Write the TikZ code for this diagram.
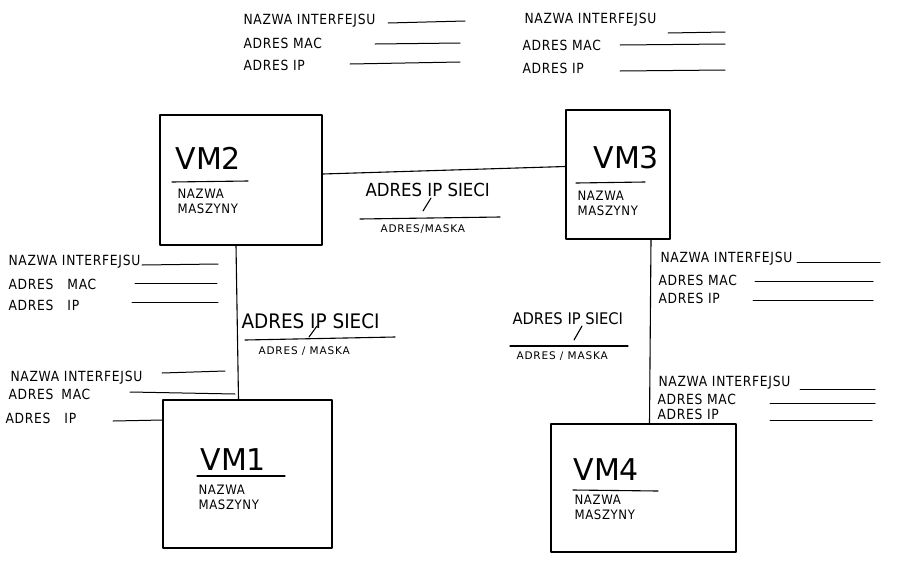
\documentclass[tikz,border=0pt]{standalone}
\usepackage{fontspec}
\setmainfont{DejaVu Sans}
\begin{document}
\begin{tikzpicture}[x=1pt,y=-1pt,line width=1.1pt,line cap=round,line join=round,
  box/.style={draw,rectangle,inner sep=0pt},
  fld/.style={anchor=west,inner sep=0pt,font=\fontsize{14}{16}\selectfont\addfontfeature{FakeStretch=0.88,LetterSpace=5}},
  net/.style={anchor=west,inner sep=0pt,font=\fontsize{18}{20}\selectfont\addfontfeature{FakeStretch=0.92}},
  mask/.style={anchor=west,inner sep=0pt,font=\fontsize{10.5}{12}\selectfont\addfontfeature{LetterSpace=8}},
  vmt/.style={anchor=west,inner sep=0pt,font=\fontsize{30}{32}\selectfont},
  nm/.style={anchor=north west,inner sep=0pt,align=left,font=\fontsize{13}{15}\selectfont\addfontfeature{FakeStretch=0.9,LetterSpace=5}},
  blank/.style={line width=1pt}]
\useasboundingbox (0,0) rectangle (900,571);

% machine boxes
\node[box,minimum width=162pt,minimum height=130pt] (vm2) at (241,180) {};
\node[box,minimum width=104pt,minimum height=129pt] (vm3) at (618,174.5) {};
\node[box,minimum width=169pt,minimum height=148pt] (vm1) at (247.5,474) {};
\node[box,minimum width=185pt,minimum height=128pt] (vm4) at (643.5,488) {};

% box contents
\node[vmt] (t2) at (175,158) {VM2};
\draw (172,182) -- (248,181);
\node[nm] (n2) at (177,188) {NAZWA\\MASZYNY};
\node[vmt] (t3) at (593,158) {VM3};
\draw (576,183) -- (645,182);
\node[nm] (n3) at (577,190) {NAZWA\\MASZYNY};
\node[vmt] (t1) at (200,460) {VM1};
\draw (197,476) -- (285,476);
\node[nm] (n1) at (198,484) {NAZWA\\MASZYNY};
\node[vmt] (t4) at (573,470) {VM4};
\draw (573,490) -- (658,491);
\node[nm] (n4) at (574,494) {NAZWA\\MASZYNY};

% links
\draw ([yshift=6pt]vm2.east) -- ([yshift=8pt]vm3.west);
\draw ([xshift=-5pt]vm2.south) -- ([xshift=-9pt]vm1.north);
\draw ([xshift=33pt]vm3.south) -- ([xshift=6pt]vm4.north);

% network labels
\node[net] (s1) at (365,190) {ADRES IP SIECI};
\draw (423,211) -- (431,198);
\draw (360,219) -- (500,217);
\node[mask] (m1) at (380,229) {ADRES/MASKA};

\node[net,font=\fontsize{20}{22}\selectfont\addfontfeature{FakeStretch=0.92}] (s2) at (241,321) {ADRES IP SIECI};
\draw (309,337) -- (317,326);
\draw (245,340) -- (395,337);
\node[mask] (m2) at (258,351) {ADRES / MASKA};

\node[net,font=\fontsize{16}{18}\selectfont\addfontfeature{FakeStretch=0.92}] (s3) at (512,319) {ADRES IP SIECI};
\draw (574,340) -- (582,326);
\draw (510,346) -- (628,346);
\node[mask] (m3) at (516,356) {ADRES / MASKA};

% interface fields: top left (VM2)
\node[fld] (a1) at (243,21) {NAZWA INTERFEJSU};
\node[fld] (a2) at (243,43) {ADRES MAC};
\node[fld] (a3) at (243,65) {ADRES IP};
\draw[blank] (388,23) -- (465,21);
\draw[blank] (375,44) -- (460,43);
\draw[blank] (350,64) -- (460,62);

% top right (VM3)
\node[fld] (b1) at (524,20) {NAZWA INTERFEJSU};
\node[fld] (b2) at (522,45) {ADRES MAC};
\node[fld] (b3) at (522,68) {ADRES IP};
\draw[blank] (668,33) -- (725,32);
\draw[blank] (620,45) -- (725,44);
\draw[blank] (620,71) -- (725,70);

% left middle (VM2 down link)
\node[fld] (c1) at (8,262) {NAZWA INTERFEJSU};
\node[fld] (c2) at (8,284) {ADRES\hspace{14pt}MAC};
\node[fld] (c3) at (8,305) {ADRES\hspace{14pt}IP};
\draw[blank] (142,265) -- (218,264);
\draw[blank] (135,283) -- (217,283);
\draw[blank] (132,302) -- (218,302);

% left lower (VM1)
\node[fld] (d1) at (10,378) {NAZWA INTERFEJSU};
\node[fld] (d2) at (8,394) {ADRES\hspace{8pt}MAC};
\node[fld] (d3) at (5,418) {ADRES\hspace{14pt}IP};
\draw[blank] (162,373) -- (225,371);
\draw[blank] (130,392) -- (235,394);
\draw[blank] (113,421) -- (163,420);

% right middle (VM3)
\node[fld] (e1) at (660,259) {NAZWA INTERFEJSU};
\node[fld] (e2) at (658,280) {ADRES MAC};
\node[fld] (e3) at (658,298) {ADRES IP};
\draw[blank] (797,262) -- (880,262);
\draw[blank] (755,281) -- (873,281);
\draw[blank] (753,300) -- (873,300);

% right lower (VM4)
\node[fld] (f1) at (658,383) {NAZWA INTERFEJSU};
\node[fld] (f2) at (657,399) {ADRES MAC};
\node[fld] (f3) at (657,414) {ADRES IP};
\draw[blank] (800,389) -- (875,389);
\draw[blank] (770,403) -- (875,403);
\draw[blank] (770,420) -- (872,420);
\end{tikzpicture}
\end{document}
